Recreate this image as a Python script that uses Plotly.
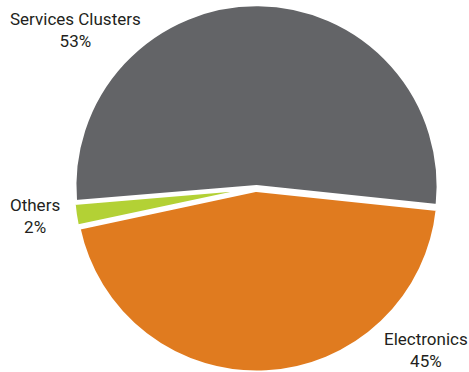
import plotly.graph_objects as go

labels = ["Services Clusters", "Others", "Electronics"]
values = [53, 2, 45]
colors = ["#636467", "#B3D135", "#E07B1F"]
label_pos = [(0.162, 0.919), (0.075, 0.419), (0.908, 0.059)]

fig = go.Figure(go.Pie(
    labels=labels, values=values, sort=False, direction="counterclockwise",
    rotation=-94.8, pull=[0.009, 0.008, 0.013], textinfo="none", hoverinfo="label+percent",
    marker=dict(colors=colors, line=dict(color="white", width=3)),
    domain=dict(x=[0.1546, 0.9392], y=[0.0, 0.989]),
))
for lab, v, (x, y) in zip(labels, values, label_pos):
    fig.add_annotation(x=x, y=y, xref="paper", yref="paper", showarrow=False,
                       text=f"{lab}<br>{v}%", align="center", yanchor="middle", xanchor="center",
                       font=dict(family="Roboto", size=17, color="#231F20"))
fig.update_layout(width=469, height=372, margin=dict(l=0, r=0, t=0, b=0),
                  showlegend=False, paper_bgcolor="white")
fig.write_html("out.html", config={"displayModeBar": False},
               post_script="document.body.style.margin='0';")
